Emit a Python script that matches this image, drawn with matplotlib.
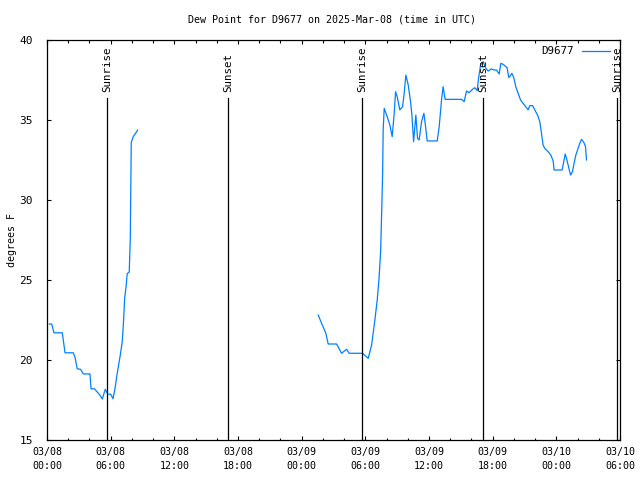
import matplotlib
matplotlib.use("Agg")
import matplotlib.pyplot as plt
from matplotlib.ticker import MultipleLocator

# hours since 03/08 00:00 UTC
seg1_hours = [0.22, 0.44, 0.54, 0.66, 1.44, 1.70, 2.48, 2.64, 2.85, 3.17, 3.42, 4.05, 4.15,
              4.46, 4.68, 4.99, 5.21, 5.49, 5.72, 6.00, 6.22, 6.41, 6.62, 6.88, 7.09, 7.22,
              7.32, 7.44, 7.56, 7.75, 7.85, 7.91, 7.94, 8.13, 8.45, 8.54]
seg1_dew = [22.25, 22.25, 22.0, 21.7, 21.7, 20.45, 20.45, 20.17, 19.45, 19.42, 19.13, 19.13, 18.2,
            18.2, 18.04, 17.8, 17.56, 18.17, 17.87, 17.86, 17.58, 18.23, 19.17, 20.2, 21.14, 22.5,
            23.9, 24.5, 25.4, 25.5, 27.6, 31.56, 33.6, 33.96, 34.27, 34.37]

seg2_hours = [25.56, 25.88, 26.28, 26.50, 27.29, 27.76, 28.23, 28.48, 29.74, 30.27, 30.59, 30.90,
              31.12, 31.30, 31.44, 31.53, 31.63, 31.68, 31.78, 32.06, 32.31, 32.53, 32.72, 32.85,
              33.00, 33.25, 33.51, 33.66, 33.82, 34.04, 34.26, 34.39, 34.55, 34.76, 34.92, 35.07,
              35.30, 35.52, 35.68, 35.83, 36.77, 36.96, 37.18, 37.33, 37.52, 39.07, 39.31, 39.54,
              39.78, 40.10, 40.32, 40.54, 40.67, 40.86, 41.10, 41.36, 41.57, 41.89, 42.11, 42.36,
              42.61, 42.77, 42.99, 43.24, 43.36, 43.52, 43.68, 43.81, 43.99, 44.18, 44.40, 44.63,
              44.87, 45.19, 45.34, 45.50, 45.76, 45.97, 46.23, 46.44, 46.60, 46.75, 46.91, 47.23,
              47.48, 47.70, 47.79, 48.54, 48.70, 48.83, 48.96, 49.11, 49.34, 49.52, 49.67, 49.84,
              50.05, 50.21, 50.37, 50.59, 50.75, 50.84]
seg2_dew = [22.81, 22.29, 21.67, 21.0, 21.0, 20.42, 20.67, 20.42, 20.42, 20.1, 20.94, 22.5,
            23.75, 25.2, 26.77, 28.96, 31.67, 34.37, 35.73, 35.21, 34.69, 33.96, 35.42, 36.77,
            36.46, 35.63, 35.83, 36.67, 37.81, 37.19, 36.15, 35.31, 33.65, 35.31, 33.85, 33.75,
            34.9, 35.42, 34.58, 33.69, 33.69, 34.58, 36.25, 37.08, 36.29, 36.29, 36.15, 36.81,
            36.71, 36.92, 37.02, 36.83, 37.6, 38.44, 38.65, 38.23, 38.06, 38.19, 38.125, 38.125,
            37.875, 38.54, 38.48, 38.33, 38.27, 37.65, 37.77, 37.92, 37.65, 37.08, 36.67, 36.25,
            36.04, 35.77, 35.63, 35.9, 35.9, 35.63, 35.31, 34.9, 34.17, 33.44, 33.23, 33.02,
            32.81, 32.44, 31.875, 31.875, 32.4, 32.875, 32.6, 32.19, 31.56, 31.77, 32.29, 32.81,
            33.23, 33.54, 33.79, 33.6, 33.33, 32.5]

sun_hours = [5.70, 17.05, 29.70, 41.07, 53.75]
sun_labels = ["Sunrise", "Sunset", "Sunrise", "Sunset", "Sunrise"]

xtick_hours = [0, 6, 12, 18, 24, 30, 36, 42, 48, 54]
xtick_labels = ["03/08\n00:00", "03/08\n06:00", "03/08\n12:00", "03/08\n18:00",
                "03/09\n00:00", "03/09\n06:00", "03/09\n12:00", "03/09\n18:00",
                "03/10\n00:00", "03/10\n06:00"]
yticks = [15, 20, 25, 30, 35, 40]

FONT = "DejaVu Sans Mono"
FS = 7.2
plt.rcParams['font.family'] = FONT
plt.rcParams['font.size'] = FS

fig = plt.figure(figsize=(6.4, 4.8), dpi=100)
ax = fig.add_axes([47/640, 40/480, 573/640, 400/480])

color = '#0080ff'
line, = ax.plot(seg1_hours, seg1_dew, color=color, lw=0.9, label="D9677")
ax.plot(seg2_hours, seg2_dew, color=color, lw=0.9)

for h, lab in zip(sun_hours, sun_labels):
    ax.plot([h, h], [15, 36.4], color='black', lw=0.9)
    ax.text(h, 36.75, lab, rotation=90, ha='center', va='bottom', fontsize=FS + 0.6,
            clip_on=False)

ax.set_xlim(0, 54)
ax.set_ylim(15, 40)
ax.set_xticks(xtick_hours)
ax.set_xticklabels(xtick_labels, linespacing=1.45)
ax.xaxis.set_minor_locator(MultipleLocator(2))
ax.set_yticks(yticks)
ax.tick_params(which='both', direction='in', top=True, right=True, width=0.8)
ax.tick_params(which='major', length=3.2)
ax.tick_params(which='minor', length=1.8)
ax.tick_params(axis='x', pad=5, labelsize=FS)
ax.tick_params(axis='y', pad=10, labelsize=FS + 0.8)
for s in ax.spines.values():
    s.set_linewidth(0.9)

fig.text(332/640, 1 - 20/480, "Dew Point for D9677 on 2025-Mar-08 (time in UTC)",
         ha='center', va='center', fontsize=FS)
fig.text(12/640, 0.5, "degrees F", rotation=90, ha='center', va='center', fontsize=FS)

ax.legend(handles=[line], loc='upper right', bbox_to_anchor=(0.9825, 0.984),
          frameon=False, markerfirst=False, handlelength=2.6, fontsize=FS + 0.6,
          borderaxespad=0.0, handletextpad=0.7, borderpad=0.0)

fig.savefig("out.png", dpi=100)
